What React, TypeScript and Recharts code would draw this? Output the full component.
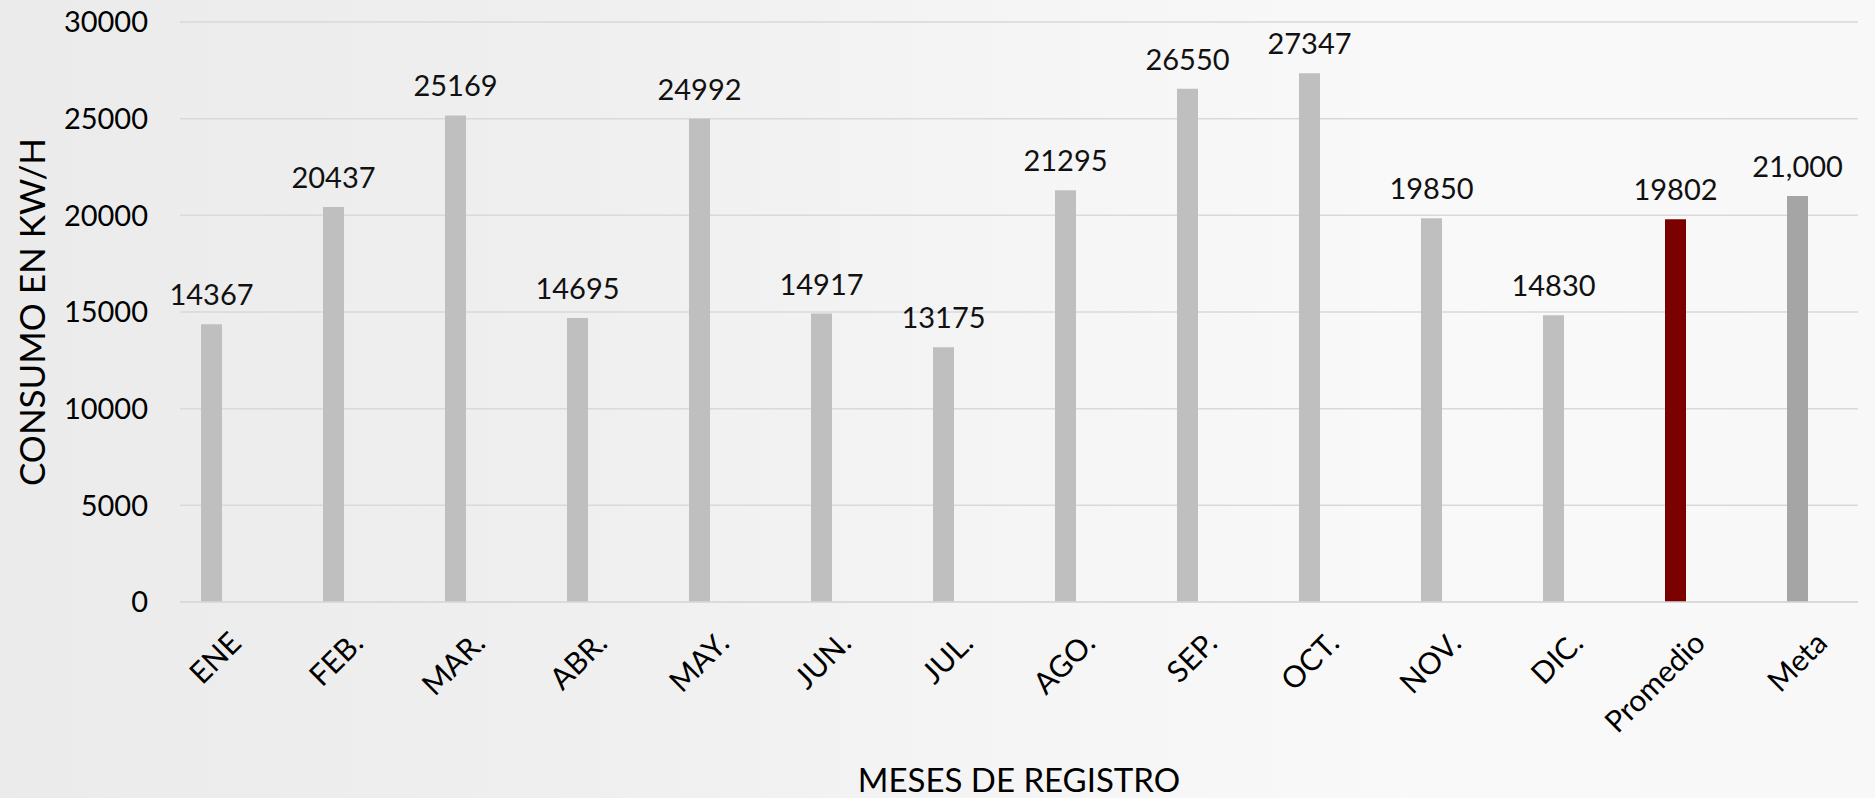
import React from 'react';
import { BarChart, Bar, Cell, XAxis, YAxis, CartesianGrid, LabelList, Label } from 'recharts';

const meses = ['ENE', 'FEB.', 'MAR.', 'ABR.', 'MAY.', 'JUN.', 'JUL.', 'AGO.', 'SEP.', 'OCT.', 'NOV.', 'DIC.', 'Promedio', 'Meta'];
const consumo = [14367, 20437, 25169, 14695, 24992, 14917, 13175, 21295, 26550, 27347, 19850, 14830, 19802, 21000];
const colores = [
  '#BFBFBF', '#BFBFBF', '#BFBFBF', '#BFBFBF', '#BFBFBF', '#BFBFBF',
  '#BFBFBF', '#BFBFBF', '#BFBFBF', '#BFBFBF', '#BFBFBF', '#BFBFBF',
  '#7B0000', '#A5A5A5',
];
const ticksY = [0, 5000, 10000, 15000, 20000, 25000, 30000];
// only the goal bar shows a thousands separator
const conMiles = ['Meta'];

const FONT = 'Lato, "Open Sans", sans-serif';

const data = meses.map((mes, i) => ({
  mes,
  consumo: consumo[i],
  etiqueta: conMiles.includes(mes) ? consumo[i].toLocaleString('en-US') : String(consumo[i]),
}));

const XTick = ({ x, y, payload }: any) => {
  const ax = x + 32;
  const ay = y + 43;
  return (
    <text
      x={ax}
      y={ay}
      textAnchor="end"
      fill="#000"
      fontSize={30}
      fontFamily={FONT}
      transform={`rotate(-45, ${ax}, ${ay})`}
    >
      {payload.value}
    </text>
  );
};

const YTitle = ({ viewBox }: any) => {
  const cx = 45;
  const cy = viewBox.y + viewBox.height / 2;
  return (
    <text
      x={cx}
      y={cy}
      textAnchor="middle"
      fill="#000"
      fontSize={35}
      fontFamily={FONT}
      transform={`rotate(-90, ${cx}, ${cy})`}
    >
      CONSUMO EN KW/H
    </text>
  );
};

export default function App() {
  return (
    <div
      style={{
        position: 'absolute',
        left: 0,
        top: 0,
        width: 1875,
        height: 798,
        background: 'linear-gradient(90deg, #ebebeb 0%, #efefef 30%, #f5f5f5 55%, #f9f9f9 75%, #f8f8f8 100%)',
      }}
    >
      <BarChart
        width={1875}
        height={798}
        data={data}
        margin={{ top: 22, right: 17, bottom: 0, left: 0 }}
      >
        <CartesianGrid vertical={false} stroke="#D9D9D9" strokeWidth={1.5} />
        <XAxis
          dataKey="mes"
          height={196}
          interval={0}
          padding={{ left: -30, right: 0 }}
          tickLine={false}
          tickSize={0}
          tickMargin={0}
          axisLine={{ stroke: '#D9D9D9', strokeWidth: 1.5 }}
          tick={<XTick />}
        >
          <Label
            value="MESES DE REGISTRO"
            position="insideBottom"
            offset={6}
            fill="#000"
            fontSize={33}
            fontFamily={FONT}
          />
        </XAxis>
        <YAxis
          width={180}
          domain={[0, 30000]}
          ticks={ticksY}
          axisLine={false}
          tickLine={false}
          tickSize={0}
          tickMargin={32}
          tick={{ fill: '#000', fontSize: 29, fontFamily: FONT }}
        >
          <Label content={<YTitle />} />
        </YAxis>
        <Bar dataKey="consumo" barSize={21} isAnimationActive={false}>
          {data.map((d, i) => (
            <Cell key={d.mes} fill={colores[i]} />
          ))}
          <LabelList
            dataKey="etiqueta"
            position="top"
            offset={19}
            fill="#111"
            fontSize={29}
            fontFamily={FONT}
          />
        </Bar>
      </BarChart>
    </div>
  );
}
